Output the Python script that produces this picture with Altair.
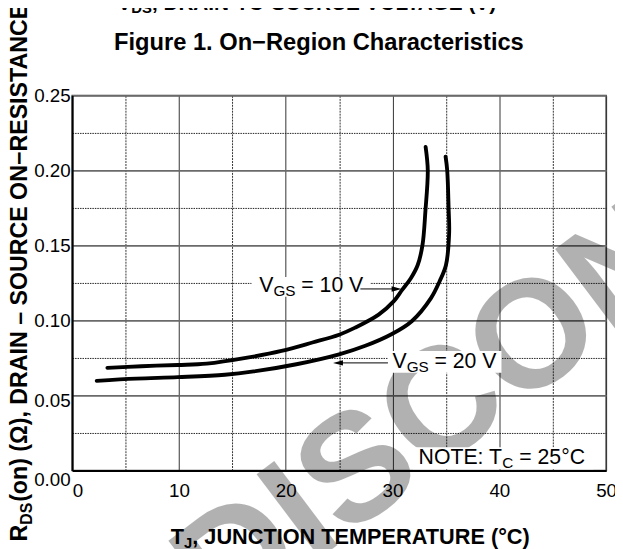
import altair as alt
import pandas as pd

FONT = "Liberation Sans"

# ---- data ----
# V_GS = 10 V curve
t10 = [3.3, 6.5, 9.9, 12.6, 16.4, 19.6, 22.5, 25.0, 26.5, 28.7, 30.1, 30.9, 31.7, 32.35, 32.8, 33.08, 33.3, 33.1]
r10 = [0.0684, 0.0695, 0.0703, 0.0712, 0.0752, 0.0797, 0.0853, 0.0905, 0.0952, 0.1039, 0.1127, 0.1204, 0.1280,
       0.1368, 0.1500, 0.1730, 0.2000, 0.2156]
# V_GS = 20 V curve
t20 = [2.3, 6.0, 9.9, 14.3, 17.0, 21.0, 25.0, 27.45, 29.9, 31.8, 33.6, 34.4, 35.0, 35.3, 35.25, 35.12, 34.97]
r20 = [0.0597, 0.0612, 0.0622, 0.0638, 0.0660, 0.0708, 0.0774, 0.0831, 0.0908, 0.0995, 0.1149, 0.1260, 0.1368,
       0.1580, 0.1750, 0.2000, 0.2092]

x_ticks = [0, 5, 10, 15, 20, 25, 30, 35, 40, 45, 50]
y_ticks = [0, 0.025, 0.05, 0.075, 0.1, 0.125, 0.15, 0.175, 0.2, 0.225, 0.25]

# annotation label anchors (data units)
lab_T = [17.53, 30.0]
lab_R = [0.1189, 0.0684]
lab_tail = ["= 10 V", "= 20 V"]
# white boxes behind labels
box_T = [16.8, 29.57, 31.9]
box_T2 = [27.9, 40.2, 48.8]
box_R = [0.1158, 0.0651, 0.0008]
box_R2 = [0.1289, 0.0796, 0.0155]
# arrows
arr_T = [26.99, 24.9]
arr_T2 = [30.3, 29.57]
arr_R = [0.121, 0.0717]
head_T = [30.84, 24.43]
head_R = [0.121, 0.0717]
head_shape = ["M0,0L-2,-0.55L-2,0.55Z", "M0,0L2,-0.55L2,0.55Z"]
# note
note_T = [32.44]
note_R = [0.0041]

# ---- tables ----
curves = pd.DataFrame({
    "T": t10 + t20,
    "R": r10 + r20,
    "series": ["10 V"] * len(t10) + ["20 V"] * len(t20),
    "ord": list(range(len(t10))) + list(range(len(t20))),
})
labels = pd.DataFrame({"T": lab_T, "R": lab_R, "tail": lab_tail})
boxes = pd.DataFrame({"T": box_T, "T2": box_T2, "R": box_R, "R2": box_R2})
arrows = pd.DataFrame({"T": arr_T, "T2": arr_T2, "R": arr_R})
heads = pd.DataFrame({"T": head_T, "R": head_R, "shape": head_shape})
note = pd.DataFrame({"T": note_T, "R": note_R})
one = pd.DataFrame({"k": [0]})

xs = alt.Scale(domain=[0, 50], nice=False, zero=False)
ys = alt.Scale(domain=[0, 0.25], nice=False, zero=False)
MAJOR = "round(datum.value * 1000) % 50 == 0"
MINOR = "round(datum.value * 1000) % 50 != 0"

x_axis = alt.Axis(
    values=x_ticks, grid=True, ticks=False, title=None,
    labelExpr="datum.value % 10 == 0 ? datum.label : ''",
    labelFont=FONT, labelFontSize=19, labelColor="black", labelPadding=11,
    labelFlush=False, labelOverlap=False,
    labelAlign={"condition": {"test": "datum.value == 0", "value": "left"}, "value": "center"},
    domainColor="black", domainWidth=2,
    gridColor="#333333", gridWidth=1,
    gridDash={"condition": {"test": "datum.value % 10 != 0", "value": [2, 1]}, "value": []},
)
y_axis = alt.Axis(
    values=y_ticks, grid=True, ticks=False, title=None, format=".2f",
    labelExpr=MAJOR + " ? datum.label : ''",
    labelFont=FONT, labelFontSize=19, labelColor="black", labelPadding=2,
    labelFlush=False, labelOverlap=False,
    labelOffset={"condition": [{"test": "datum.value < 0.01", "value": 9},
                               {"test": "datum.value < 0.06", "value": 5}], "value": 0},
    domainColor="black", domainWidth=2,
    gridColor={"condition": {"test": MAJOR, "value": "#6a6a6a"}, "value": "#222222"},
    gridWidth={"condition": {"test": MAJOR, "value": 1.8}, "value": 1},
    gridDash={"condition": {"test": MINOR, "value": [1.5, 1]}, "value": []},
)
X = alt.X("T:Q", scale=xs, axis=x_axis)
Y = alt.Y("R:Q", scale=ys, axis=y_axis)

layers = []

# watermark
layers.append(alt.Chart(one).mark_text(
    text="DISCONTINUED", font=FONT, fontSize=155, fontWeight="bold", align="left",
    baseline="middle", angle=323, color="black", opacity=0.3,
).encode(x=alt.value(125), y=alt.value(505)))

# white boxes
layers.append(alt.Chart(boxes).mark_rect(color="white").encode(
    x=X, x2="T2:Q", y=Y, y2="R2:Q"))

# curves
layers.append(alt.Chart(curves).mark_line(
    color="black", strokeWidth=3.9, interpolate="catmull-rom", strokeCap="round"
).encode(x=X, y=Y, detail="series:N", order="ord:Q"))

# arrows
layers.append(alt.Chart(arrows).mark_rule(color="black", strokeWidth=1).encode(
    x=X, x2="T2:Q", y=Y))
layers.append(alt.Chart(heads).mark_point(filled=True, size=100, color="black", opacity=1, strokeWidth=0).encode(
    x=X, y=Y, shape=alt.Shape("shape:N", scale=None)))


def txt(df, text_field=None, text=None, dx=0, dy=0, size=21, weight="normal"):
    enc = {"x": X, "y": Y}
    if text_field:
        enc["text"] = alt.Text(text_field)
    else:
        enc["text"] = alt.value(text)
    return alt.Chart(df).mark_text(
        align="left", baseline="alphabetic", dx=dx, dy=dy, font=FONT, fontSize=size,
        fontWeight=weight, color="black").encode(**enc)


layers.append(txt(labels, text="V", size=21.5))
layers.append(txt(labels, text="GS", dx=14.3, dy=4, size=15.5))
layers.append(txt(labels, text_field="tail:N", dx=42.5, size=21.5))
layers.append(txt(note, text="NOTE: T", size=21.5))
layers.append(txt(note, text="C", dx=84.8, dy=4, size=15.5))
layers.append(txt(note, text="= 25\u00b0C", dx=102.0, size=21.5))


def ptxt(text, x, y, size, weight="bold", align="left", angle=0):
    kw = dict(text=text, font=FONT, fontSize=size, fontWeight=weight, align=align,
              baseline="alphabetic", color="black")
    if angle:
        kw["angle"] = angle
    return alt.Chart(one).mark_text(**kw).encode(x=alt.value(x), y=alt.value(y))


# cropped top label
layers.append(ptxt("V", 46, -87, 21))
layers.append(ptxt("DS", 60, -83, 15))
layers.append(ptxt(", DRAIN-TO-SOURCE VOLTAGE (V)", 80.8, -87, 21))
# figure title
layers.append(ptxt("Figure 1. On\u2212Region Characteristics", 250, -46, 24, align="center"))
# x title
layers.append(ptxt("T", 100, 454, 22))
layers.append(ptxt("J", 113.4, 459, 15))
layers.append(ptxt(", JUNCTION TEMPERATURE (\u00b0C)", 121.7, 454, 22))
# y title (rotated)
layers.append(ptxt("R", -46, 452, 23.5, angle=270))
layers.append(ptxt("DS", -41, 435.0, 16, angle=270))
layers.append(ptxt("(on) (\u03a9), DRAIN \u2013 SOURCE ON\u2212RESISTANCE", -46, 411.8, 23.5, angle=270))

chart = alt.layer(*layers).properties(
    width=541, height=380,
    padding={"left": 65, "top": 85, "right": 9, "bottom": 76},
    autosize=alt.AutoSizeParams(type="none"),
).configure_view(stroke="#444444", strokeWidth=1.5)

chart.save("out.html", embed_options={"renderer": "svg", "actions": False})
